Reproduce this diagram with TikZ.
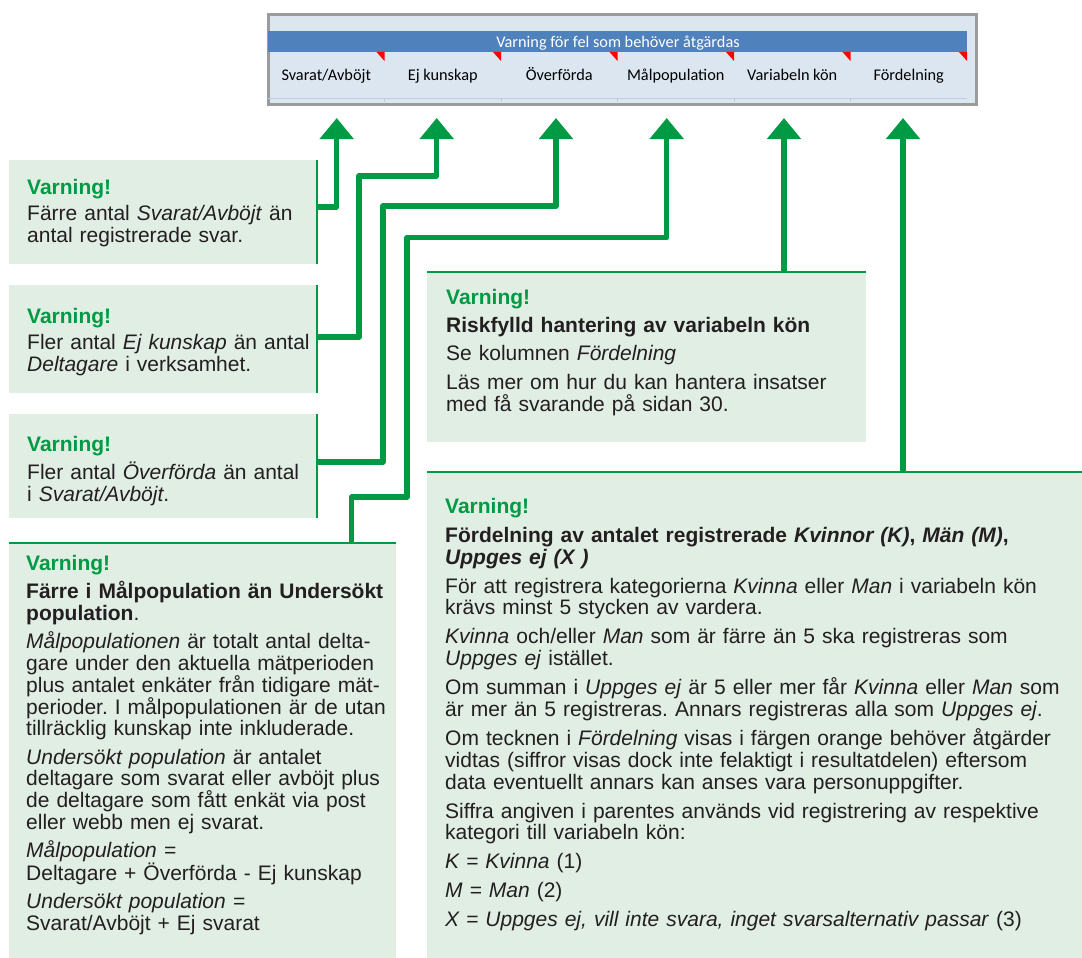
\documentclass[tikz,border=0pt]{standalone}
\usepackage{fontspec}
\setmainfont{Liberation Sans}
\newfontfamily\calibri{Carlito}
\usetikzlibrary{arrows.meta}
\frenchspacing
\definecolor{vgreen}{RGB}{0,154,68}
\definecolor{boxfill}{RGB}{225,238,228}
\definecolor{txt}{RGB}{35,31,32}
\definecolor{hdrfill}{RGB}{220,230,241}
\definecolor{hdrblue}{RGB}{79,129,189}
\definecolor{hdrline}{RGB}{190,205,225}
\definecolor{framegray}{RGB}{155,155,155}
\definecolor{flagred}{RGB}{255,0,0}
\tikzset{
  warnbox/.style={fill=boxfill, draw=none, anchor=north west, inner sep=0pt, outer sep=0pt},
  warntext/.style={anchor=base west, inner sep=0pt, align=left, text=txt,
    font=\fontsize{21}{21.8}\selectfont},
  edgeline/.style={draw=vgreen, line width=2.5pt},
  conn/.style={draw=vgreen, line width=5.5pt, line join=round,
    -{Triangle[length=21pt,width=33pt]}},
  colhead/.style={anchor=base, inner sep=0pt, font=\calibri\fontsize{16.3}{18}\selectfont, text=black},
  flag/.style={fill=flagred, draw=none},
  sepline/.style={draw=hdrline, line width=0.8pt},
}
\newcommand{\warn}{\textcolor{vgreen}{\textbf{Varning!}}}
\begin{document}
\begin{tikzpicture}[x=1pt,y=-1pt]
\useasboundingbox (0,0) rectangle (1082,958);

% ---------- header table ----------
\node[draw=framegray, line width=3pt, fill=hdrfill, anchor=north west, inner sep=0pt,
      minimum width=708pt, minimum height=90pt] (hdr) at (267,13) {};
\node[fill=hdrblue, anchor=north west, inner sep=0pt, minimum width=699pt, minimum height=21pt] (bar) at (268,31) {};
\node[anchor=base, inner sep=0pt, text=white, font=\calibri\fontsize{16.3}{18}\selectfont] (bartext) at (618,47.3) {Varning för fel som behöver åtgärdas};
\draw[sepline] (268,98) -- (967,98);
\foreach \xx in {384.5,501,617.5,734,850.5} { \draw[sepline] (\xx,98) -- (\xx,102); }
\foreach \xx in {384.5,501,617.5,734,850.5,967} { \fill[flag] (\xx-8,52) -- (\xx,52) -- (\xx,61) -- cycle; }
\node[colhead] (h1) at (326.25,80.7) {Svarat/Avböjt};
\node[colhead] (h2) at (442.75,80.7) {Ej kunskap};
\node[colhead] (h3) at (559.25,80.7) {Överförda};
\node[colhead] (h4) at (675.75,80.7) {Målpopulation};
\node[colhead] (h5) at (792.25,80.7) {Variabeln kön};
\node[colhead] (h6) at (908.75,80.7) {Fördelning};

% arrow targets
\coordinate (t1) at (336.7,118);
\coordinate (t2) at (436.7,118);
\coordinate (t3) at (556,118);
\coordinate (t4) at (666.7,118);
\coordinate (t5) at (784,118);
\coordinate (t6) at (903,118);

% ---------- boxes ----------
\node[warnbox, minimum width=308pt, minimum height=104pt] (b1) at (9,160) {};
\node[warnbox, minimum width=308pt, minimum height=108pt] (b2) at (9,285) {};
\node[warnbox, minimum width=308pt, minimum height=104pt] (b3) at (9,414) {};
\node[warnbox, minimum width=387pt, minimum height=415pt] (b4) at (9,543) {};
\node[warnbox, minimum width=439pt, minimum height=170pt] (b5) at (427,272) {};
\node[warnbox, minimum width=655pt, minimum height=486pt] (b6) at (427,472) {};

\draw[edgeline] (b1.north east) -- (b1.south east);
\draw[edgeline] (b2.north east) -- (b2.south east);
\draw[edgeline] (b3.north east) -- (b3.south east);
\draw[edgeline] (b4.north west) -- (b4.north east);
\draw[edgeline] (b5.north west) -- (b5.north east);
\draw[edgeline] (b6.north west) -- (b6.north east);

% ---------- connectors ----------
\draw[conn] (b1.east |- 0,207) -| (t1);
\draw[conn] (b2.east |- 0,337) -| (359,176) -| (t2);
\draw[conn] (b3.east |- 0,462) -| (383,206) -| (t3);
\draw[conn] (b4.north -| 351.7,0) |- (407,497) |- (666.7,237.7) -- (t4);
\draw[conn] (b5.north -| t5) -- (t5);
\draw[conn] (b6.north -| t6) -- (t6);

% ---------- texts ----------
\node[warntext, text width=285pt] (x1) at (27,194.3) {\warn\\[4.8pt]
Färre antal \textit{Svarat/Avböjt} än\\
antal registrerade svar.};

\node[warntext, text width=285pt] (x2) at (27,323.3) {\warn\\[4.8pt]
Fler antal \textit{Ej kunskap} än antal\\
\textit{Deltagare} i verksamhet.};

\node[warntext, text width=285pt] (x3) at (27,451.7) {\warn\\[4.8pt]
Fler antal \textit{Överförda} än antal\\
i \textit{Svarat/Avböjt}.};

\node[warntext, text width=365pt] (x4) at (26,570.7) {\warn\\[6.3pt]
\textbf{Färre i Målpopulation än Undersökt}\\
\textbf{population}.\\[6.3pt]
\textit{Målpopulationen} är totalt antal delta-\\
gare under den aktuella mätperioden\\
plus antalet enkäter från tidigare mät-\\
perioder. I målpopulationen är de utan\\
tillräcklig kunskap inte inkluderade.\\[6.3pt]
\textit{Undersökt population} är antalet\\
deltagare som svarat eller avböjt plus\\
de deltagare som fått enkät via post\\
eller webb men ej svarat.\\[6.3pt]
\textit{Målpopulation =}\\
Deltagare + Överförda - Ej kunskap\\[6.3pt]
\textit{Undersökt population =}\\
Svarat/Avböjt + Ej svarat};

\node[warntext, text width=415pt] (x5) at (446,304.3) {\warn\\[6.5pt]
\textbf{Riskfylld hantering av variabeln kön}\\[6.5pt]
Se kolumnen \textit{Fördelning}\\[6.5pt]
Läs mer om hur du kan hantera insatser\\
med få svarande på sidan 30.};

\node[warntext, text width=632pt] (x6) at (445,513.3) {\warn\\[7.2pt]
\textbf{Fördelning av antalet registrerade \textit{Kvinnor (K)}, \textit{Män (M)},}\\
\textbf{\textit{Uppges ej (X )}}\\[7.2pt]
För att registrera kategorierna \textit{Kvinna} eller \textit{Man} i variabeln kön\\
krävs minst 5 stycken av vardera.\\[7.2pt]
\textit{Kvinna} och/eller \textit{Man} som är färre än 5 ska registreras som\\
\textit{Uppges ej} istället.\\[7.2pt]
Om summan i \textit{Uppges ej} är 5 eller mer får \textit{Kvinna} eller \textit{Man} som\\
är mer än 5 registreras. Annars registreras alla som \textit{Uppges ej}.\\[7.2pt]
Om tecknen i \textit{Fördelning} visas i färgen orange behöver åtgärder\\
vidtas (siffror visas dock inte felaktigt i resultatdelen) eftersom\\
data eventuellt annars kan anses vara personuppgifter.\\[7.2pt]
Siffra angiven i parentes används vid registrering av respektive\\
kategori till variabeln kön:\\[7.2pt]
\textit{K = Kvinna} (1)\\[7.2pt]
\textit{M = Man} (2)\\[7.2pt]
\textit{X = Uppges ej, vill inte svara, inget svarsalternativ passar} (3)};
\end{tikzpicture}
\end{document}
